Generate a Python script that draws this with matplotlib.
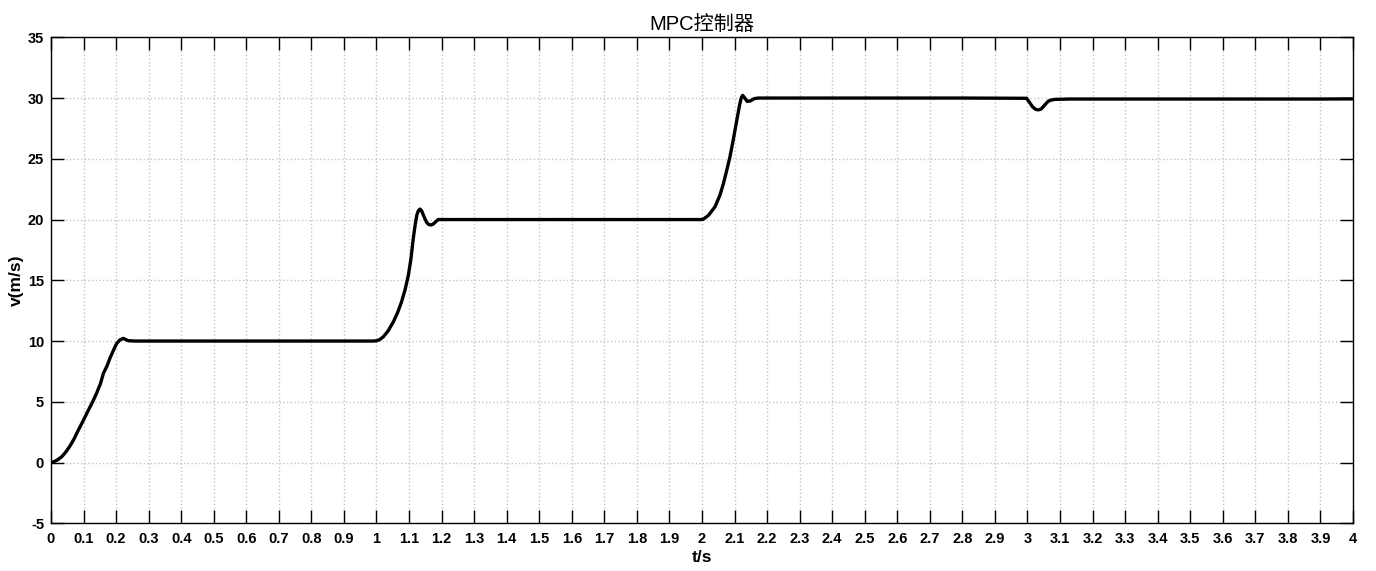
import numpy as np
import matplotlib.pyplot as plt

plt.rcParams['font.family'] = ['Liberation Sans', 'Noto Sans CJK SC', 'DejaVu Sans']
plt.rcParams['axes.unicode_minus'] = False

# 速度响应曲线
t = [0.000, 0.010, 0.020, 0.033, 0.045, 0.058, 0.070, 0.084, 0.100, 0.115, 0.128,
     0.140, 0.152, 0.161, 0.172, 0.181, 0.192, 0.202, 0.212, 0.222, 0.230, 0.237,
     0.258, 0.400, 0.600, 0.800, 0.990,
     1.000, 1.010, 1.021, 1.036, 1.052, 1.065, 1.077, 1.088, 1.098, 1.106, 1.113,
     1.119, 1.124, 1.129, 1.134, 1.139, 1.144, 1.149, 1.154, 1.160, 1.167, 1.174,
     1.180, 1.185, 1.190, 1.250, 1.500, 1.800, 1.995,
     2.004, 2.020, 2.040, 2.055, 2.066, 2.076, 2.086, 2.097, 2.107, 2.116, 2.121,
     2.125, 2.130, 2.139, 2.150, 2.160, 2.173, 2.250, 2.500, 2.800, 2.997,
     3.006, 3.015, 3.024, 3.033, 3.042, 3.052, 3.064, 3.075, 3.085, 3.130, 3.300,
     3.600, 3.900, 4.000]
v = [0.00, 0.08, 0.22, 0.48, 0.85, 1.35, 1.90, 2.67, 3.50, 4.32, 5.00,
     5.70, 6.50, 7.34, 7.95, 8.58, 9.25, 9.81, 10.10, 10.22, 10.12, 10.03,
     10.00, 10.00, 10.00, 10.00, 10.00,
     10.02, 10.12, 10.35, 10.85, 11.59, 12.35, 13.23, 14.25, 15.43, 16.80, 18.45,
     19.60, 20.37, 20.75, 20.86, 20.70, 20.37, 20.05, 19.77, 19.60, 19.55, 19.62,
     19.77, 19.90, 20.00, 20.00, 20.00, 20.00, 20.00,
     20.03, 20.35, 21.05, 22.00, 22.98, 24.05, 25.17, 26.70, 28.19, 29.50, 30.05,
     30.22, 30.05, 29.72, 29.78, 29.95, 30.00, 30.00, 30.00, 30.00, 29.98,
     29.65, 29.30, 29.08, 29.02, 29.10, 29.40, 29.75, 29.85, 29.89, 29.92, 29.92,
     29.92, 29.92, 29.93]

xticks = np.round(np.arange(0, 4.01, 0.1), 1)
xticklabels = ['%g' % x for x in xticks]
yticks = [-5, 0, 5, 10, 15, 20, 25, 30, 35]

fig = plt.figure(figsize=(13.76, 5.71), dpi=100)
ax = fig.add_axes([0.03706, 0.08354, 0.94622, 0.85114])

ax.plot(t, v, color='black', linewidth=2.4, solid_joinstyle='round')

ax.set_xlim(0, 4)
ax.set_ylim(-5, 35)
ax.set_xticks(xticks)
ax.set_xticklabels(xticklabels)
ax.set_yticks(yticks)

ax.grid(True, linestyle=':', color='#c4c4c4', linewidth=1.0)
ax.tick_params(direction='in', length=9.5, width=1, top=True, right=True,
               labelsize=10.5)
ax.tick_params(axis='x', pad=6)
ax.tick_params(axis='y', pad=5)
for lab in ax.get_xticklabels() + ax.get_yticklabels():
    lab.set_fontweight('bold')
for sp in ax.spines.values():
    sp.set_linewidth(1)

ax.set_xlabel('t/s', fontsize=12.5, fontweight='bold', labelpad=3)
ax.set_ylabel('v(m/s)', fontsize=12.5, fontweight='bold', labelpad=3)
ax.set_title('MPC控制器', fontsize=14.5, pad=5)

fig.savefig('out.png', dpi=100)
